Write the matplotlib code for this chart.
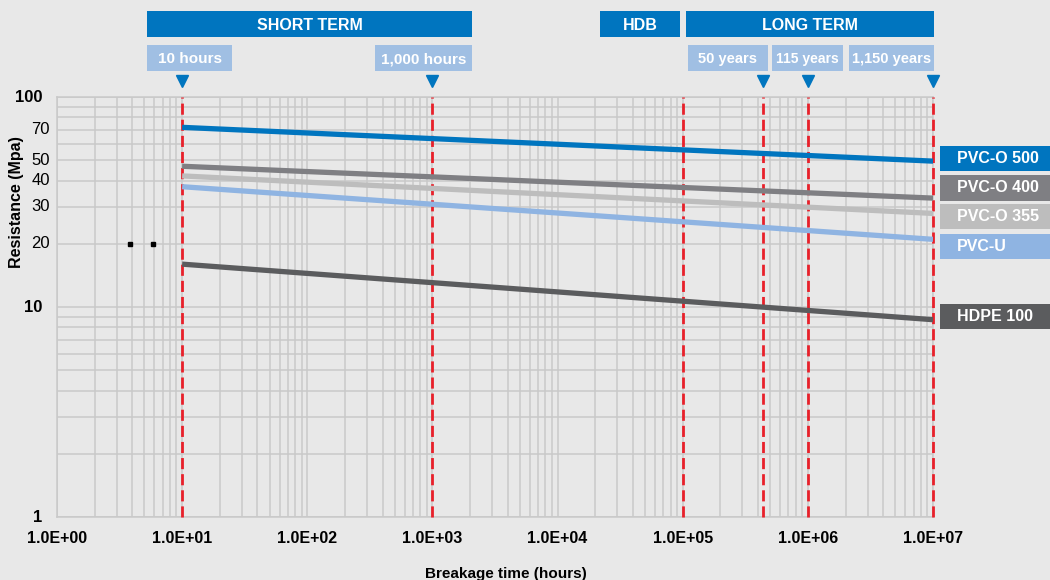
import numpy as np
import matplotlib.pyplot as plt
from matplotlib.patches import Rectangle
from matplotlib.transforms import blended_transform_factory

plt.rcParams['font.family'] = ['Liberation Sans', 'DejaVu Sans']

# Regression lines (hours -> resistance in MPa)
materials = ['PVC-O 500', 'PVC-O 400', 'PVC-O 355', 'PVC-U', 'HDPE 100']
hours_span = [10, 1e7]
resistance_start = [71.7, 46.8, 42.1, 37.4, 16.0]
resistance_end = [49.5, 33.0, 27.9, 21.0, 8.7]
colors = ['#0075bf', '#7f7f83', '#bdbdbd', '#8fb4e2', '#5b5c5e']

# Milestones marked with red dashed lines
milestone_labels = ['10 hours', '1,000 hours', '50 years', '115 years', '1,150 years']
milestone_hours = [10, 1000, 438000, 1007400, 1e7]
hdb_hours = 1e5

y_ticks = [1, 10, 20, 30, 40, 50, 70, 100]
y_bold = [1, 10, 100]
x_ticks = [1e0, 1e1, 1e2, 1e3, 1e4, 1e5, 1e6, 1e7]

# stray marks seen in the source graphic
stray_x = [3.8, 5.8]
stray_y = [20, 20]

W, H = 1050, 580
bg = '#e8e8e8'
grid_col = '#c9c9c9'
blue = '#0075bf'
light_blue = '#a0bfe3'


def fx(px):
    return px / W


def fy(py):
    return 1 - py / H


fig = plt.figure(figsize=(W / 100, H / 100), dpi=100, facecolor=bg)
ax = fig.add_axes([fx(57), fy(517), fx(933) - fx(57), fy(97) - fy(517)])
ax.set_facecolor(bg)
ax.set_xscale('log')
ax.set_yscale('log')
ax.set_xlim(1, 1e7)
ax.set_ylim(1, 100)

ax.grid(True, which='both', color=grid_col, linewidth=1.1)
ax.set_axisbelow(True)
for s in ax.spines.values():
    s.set_color(grid_col)
    s.set_linewidth(1.1)
ax.tick_params(which='both', length=0)

ax.set_xticks(x_ticks)
ax.set_xticklabels(['{:.1E}'.format(v) for v in x_ticks], fontsize=11.5, fontweight='bold')
ax.xaxis.set_minor_formatter(plt.NullFormatter())
ax.tick_params(axis='x', pad=10)

# y tick labels drawn by hand: bold ones sit further left in the source
ax.set_yticks(y_ticks)
ax.set_yticklabels([])
ax.yaxis.set_minor_formatter(plt.NullFormatter())
ytrans = blended_transform_factory(fig.transFigure, ax.transData)
for v in y_ticks:
    bold = v in y_bold
    ax.text(fx(42 if bold else 50), v, str(v), transform=ytrans, ha='right', va='center',
            fontsize=12, fontweight='bold' if bold else 'normal', clip_on=False)

# red dashed milestone lines
for h in milestone_hours + [hdb_hours]:
    ax.axvline(h, color='#e8202a', linestyle=(0, (4, 1.8)), linewidth=2, clip_on=False, zorder=3)

# material lines
for name, y0, y1, c in zip(materials, resistance_start, resistance_end, colors):
    ax.plot(hours_span, [y0, y1], color=c, linewidth=3.8, solid_capstyle='butt', zorder=4)

ax.plot(stray_x, stray_y, 's', color='black', markersize=2.5, zorder=5)


def fig_box(x0, x1, y0, y1, color, text, size, ha='center', tx=None, ty=None):
    fig.add_artist(Rectangle((fx(x0), fy(y1)), fx(x1) - fx(x0), fy(y0) - fy(y1),
                             transform=fig.transFigure, facecolor=color, edgecolor='none'))
    if tx is None:
        tx = (x0 + x1) / 2
    if ty is None:
        ty = (y0 + y1) / 2
    fig.text(fx(tx), fy(ty), text, color='white', fontsize=size,
             fontweight='bold', ha=ha, va='center')


# header boxes
fig_box(147, 472, 11, 37, blue, 'SHORT TERM', 11.5, ty=26)
fig_box(600, 680, 11, 37, blue, 'HDB', 11.5, ty=26)
fig_box(686, 934, 11, 37, blue, 'LONG TERM', 11.5, ty=26)

sub_boxes = [(147, 232), (375, 472), (688, 768), (772, 843), (849, 934)]
sub_sizes = [11, 11, 10.5, 10, 10.5]
for (x0, x1), lab, sz in zip(sub_boxes, milestone_labels, sub_sizes):
    fig_box(x0, x1, 45, 71, light_blue, lab, sz, ty=59)

# triangles above the milestone lines
trans = blended_transform_factory(ax.transData, fig.transFigure)
ax.plot(milestone_hours, [fy(81)] * len(milestone_hours), 'v', color=blue,
        markersize=9, transform=trans, clip_on=False)

# right-hand labels
label_rows = [(146, 171), (175, 201), (204, 229), (234, 259), (304, 329)]
for (y0, y1), name, c in zip(label_rows, materials, colors):
    fig_box(940, 1050, y0, y1, c, name, 11.5, ha='left', tx=957)

fig.text(fx(17), fy(202), 'Resistance (Mpa)', rotation=90, fontsize=11.5,
         fontweight='bold', ha='center', va='center')
fig.text(fx(506), fy(574), 'Breakage time (hours)', fontsize=11,
         fontweight='bold', ha='center', va='center')

fig.savefig('out.png', dpi=100, facecolor=bg)
